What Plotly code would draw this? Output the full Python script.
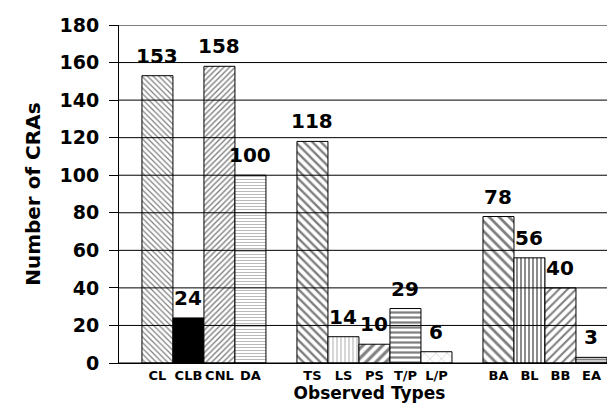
import plotly.graph_objects as go

categories = ["CL", "CLB", "CNL", "DA", "TS", "LS", "PS", "T/P", "L/P", "BA", "BL", "BB", "EA"]
values = [153, 24, 158, 100, 118, 14, 10, 29, 6, 78, 56, 40, 3]
slots = [0, 1, 2, 3, 5, 6, 7, 8, 9, 11, 12, 13, 14]
yticks = [0, 20, 40, 60, 80, 100, 120, 140, 160, 180]
xrange_ = [-1.24, 14.92]

shapes = ["\\", "", "/", "-", "\\", "|", "/", "-", "x", "\\", "|", "/", "-"]
fg = ["black", "black", "black", "#777", "black", "#777", "black", "black", "#999", "black", "black", "black", "black"]
sizes = [4, 5, 4, 3, 6, 4, 7, 5, 8, 7, 4, 6, 3]
solid = [0.3, 0.5, 0.35, 0.35, 0.4, 0.3, 0.45, 0.45, 0.15, 0.4, 0.45, 0.35, 0.6]
fill = ["white", "black", "white", "white", "white", "white", "white", "white", "white", "white", "white", "white", "white"]

FONT = "DejaVu Sans, sans-serif"

fig = go.Figure()

gx, gy = [], []
for t in yticks:
    gx += [xrange_[0], xrange_[1], None]
    gy += [t, t, None]
fig.add_trace(go.Scatter(x=gx, y=gy, mode="lines", line=dict(color="black", width=1),
                         hoverinfo="skip", showlegend=False, cliponaxis=False))

for xs, v, shp, fgc, sz, so, fc in zip(slots, values, shapes, fg, sizes, solid, fill):
    marker = dict(color=fc, line=dict(color="black", width=1))
    if shp:
        marker["pattern"] = dict(shape=shp, fgcolor=fgc, bgcolor="white", size=sz, solidity=so)
    fig.add_trace(go.Bar(x=[xs], y=[v], width=1, marker=marker, showlegend=False))

for xs, v in zip(slots, values):
    fig.add_annotation(x=xs, y=v, text=f"<b>{v}</b>", showarrow=False, yanchor="bottom", yshift=6,
                       font=dict(family=FONT, size=20, color="black"))

fig.add_annotation(text="<b>Number of CRAs</b>", xref="paper", yref="paper", x=-0.172, y=0.5,
                   xanchor="center", yanchor="middle", textangle=-90, showarrow=False,
                   font=dict(family=FONT, size=20, color="black"))

fig.update_layout(
    width=615, height=404,
    margin=dict(l=111, r=3, t=17, b=49),
    paper_bgcolor="white", plot_bgcolor="white",
    showlegend=False, barmode="overlay",
    font=dict(family=FONT, color="black"),
    xaxis=dict(range=xrange_, tickvals=slots, ticktext=[f"<b>{c}</b>" for c in categories],
               tickfont=dict(family=FONT, size=13),
               showgrid=False, zeroline=False, showline=True, linecolor="black", linewidth=1,
               ticks="",
               title=dict(text="<b>Observed Types</b>", font=dict(family=FONT, size=17), standoff=4)),
    yaxis=dict(range=[0, 180], tickvals=yticks, ticktext=[f"<b>{t}</b>\u00a0" for t in yticks],
               showgrid=False, zeroline=False, showline=True, linecolor="black", linewidth=1,
               ticks="outside", ticklen=9, tickcolor="black",
               tickfont=dict(family=FONT, size=19)),
)

fig.write_html("out.html")
